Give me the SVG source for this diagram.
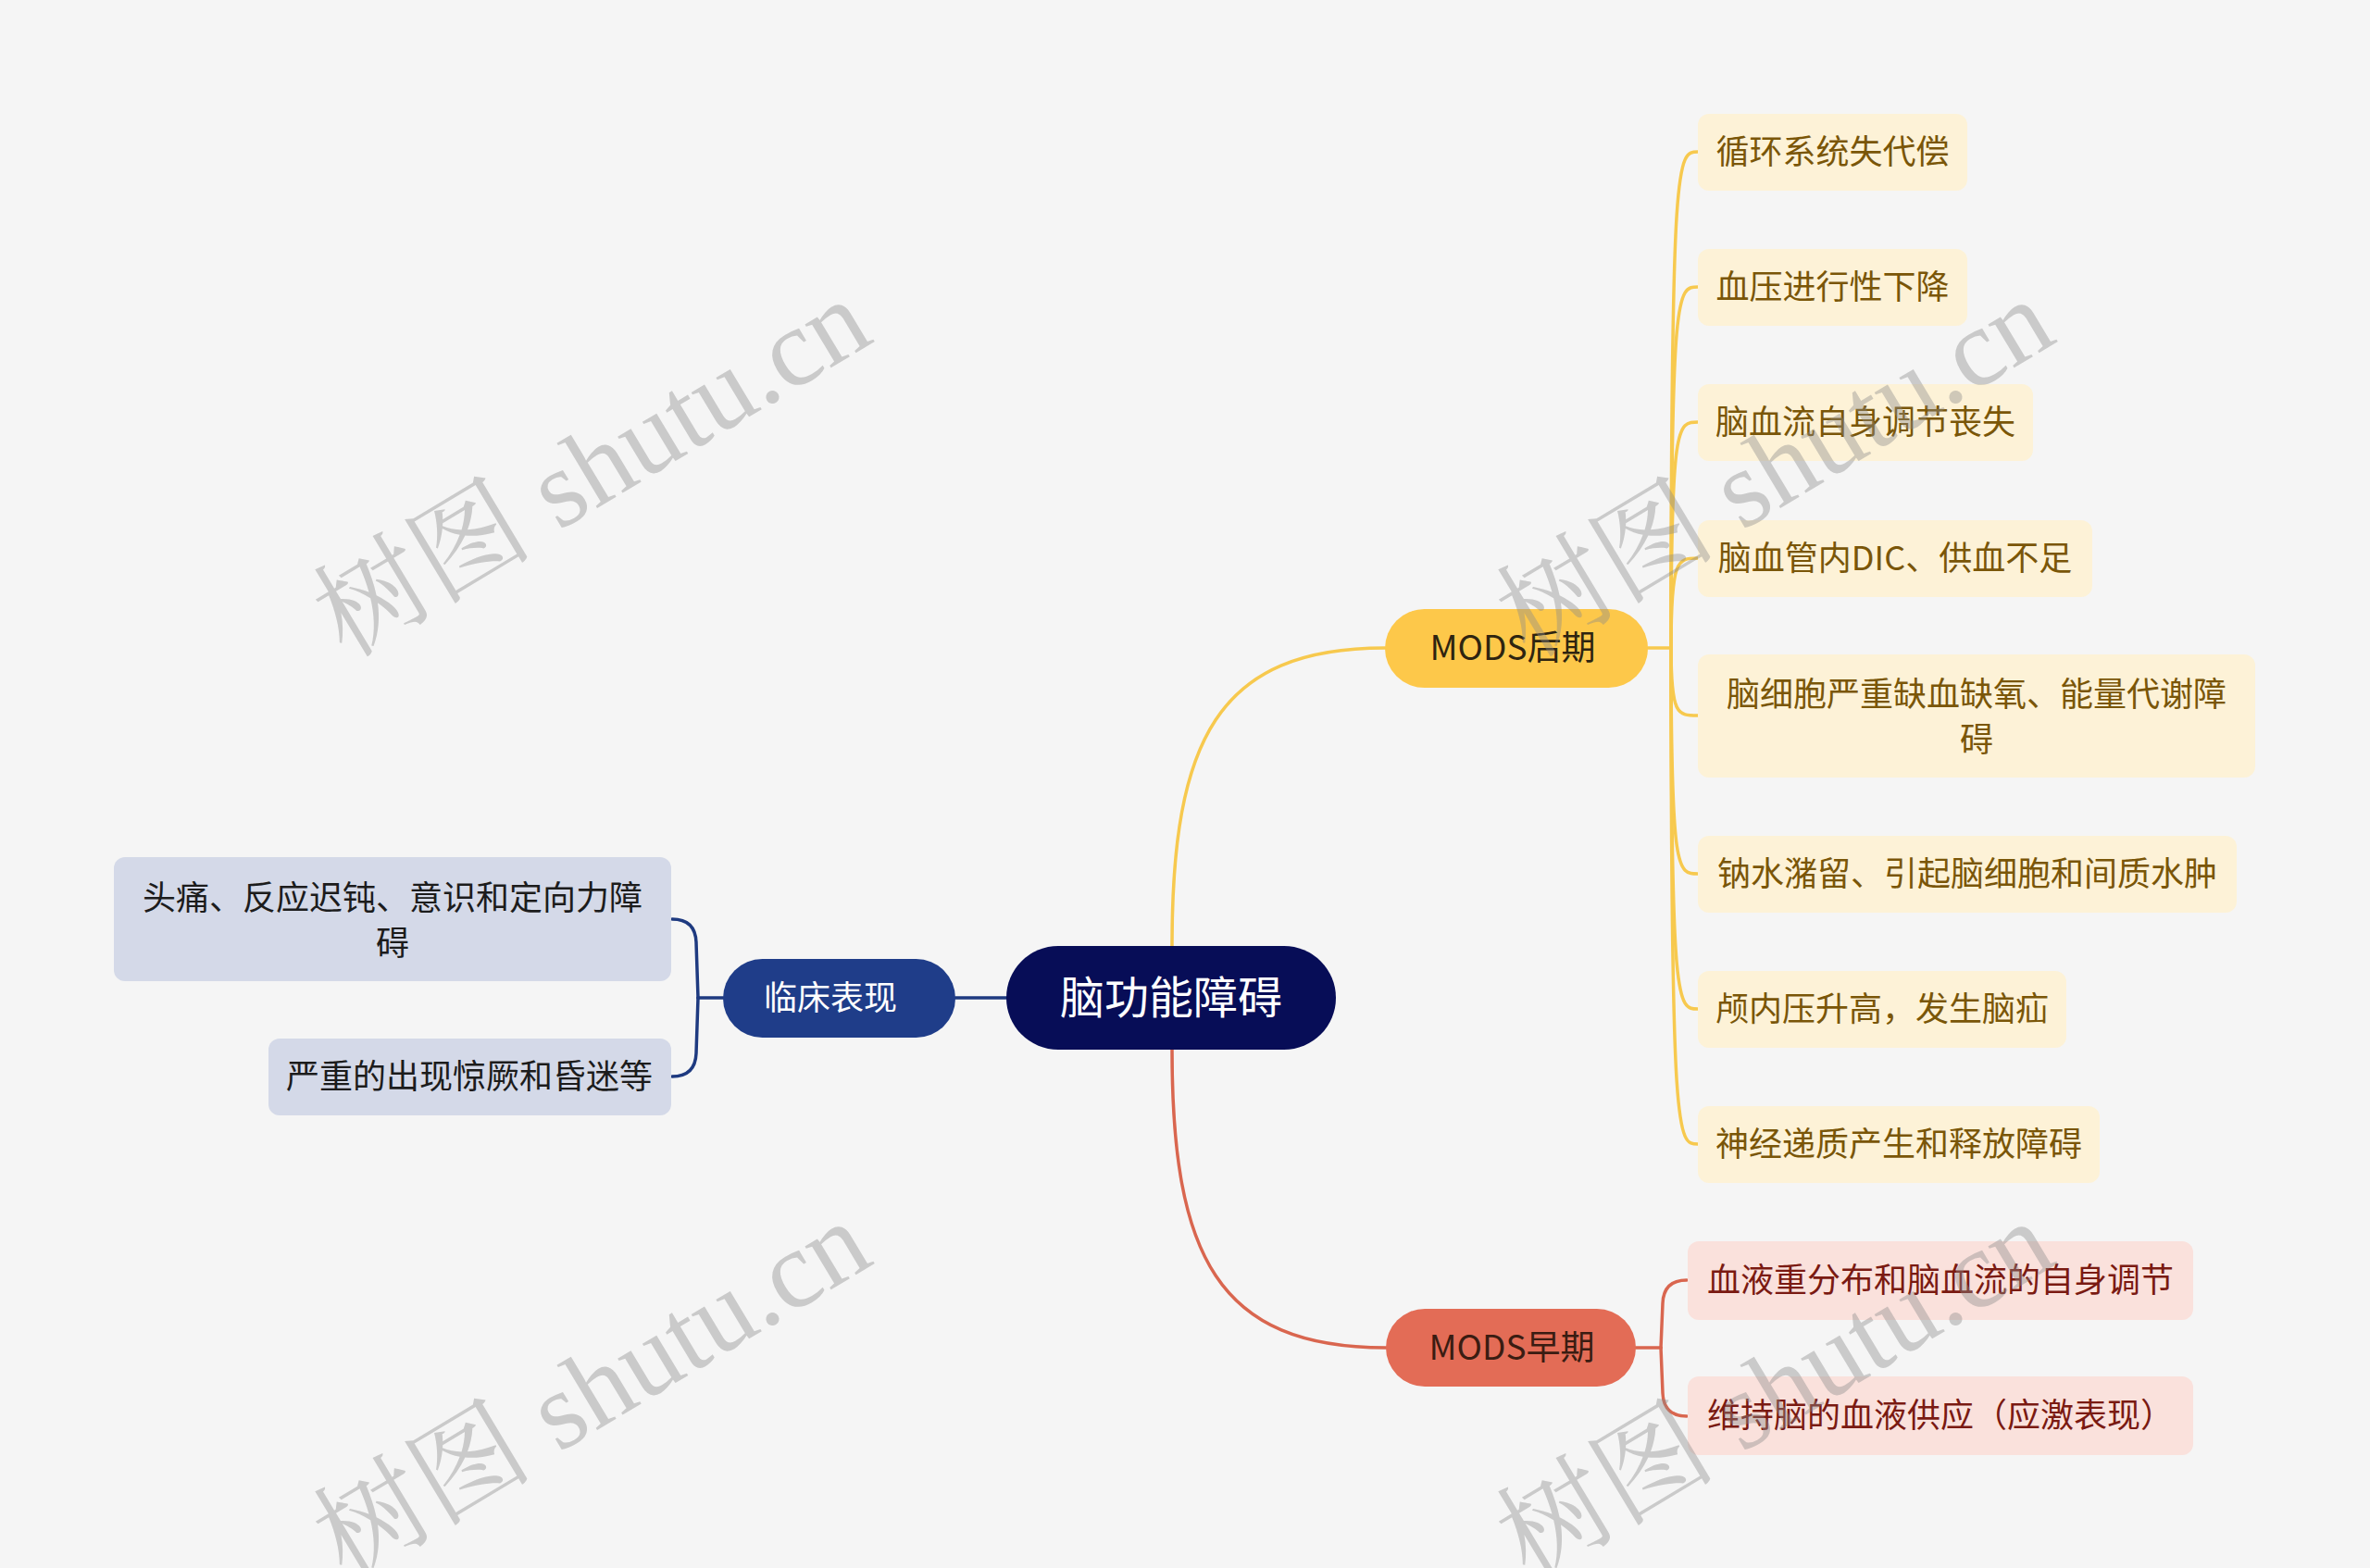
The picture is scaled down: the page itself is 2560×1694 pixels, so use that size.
<svg xmlns="http://www.w3.org/2000/svg" width="2560" height="1694" viewBox="0 0 2560 1694">
<style>
text{font-family:"Noto Sans CJK SC","Noto Sans",sans-serif;font-size:36px;text-anchor:middle}
.c{fill:none;stroke-linecap:round}
.y{stroke:#f7c94e;stroke-width:3.5}
.r{stroke:#d9664f;stroke-width:3.5}
.b{stroke:#1e3a80;stroke-width:3.5}
.yb{fill:#fdf2d7}
.yt{fill:#7a5608}
.rb{fill:#fae1dc}
.rt{fill:#7a1a12}
.bb{fill:#d4d9e8}
.bt{fill:#1c1c1c}
.wm{font-family:"Liberation Serif","Noto Serif CJK SC","Noto Sans CJK SC",serif;font-size:119px;fill:#8a8a8a;fill-opacity:0.4;text-anchor:middle}
</style>
<rect width="2560" height="1694" fill="#f5f5f5"/>
<g id="connectors">
<path class="c y" d="M1266,1022 C1266,800 1315,700 1496,700"/>
<path class="c r" d="M1266,1134 C1266,1356 1315,1456 1497,1456"/>
<path class="c b" d="M1087,1078 L1032,1078"/>
<path class="c y" d="M1780,700 L1805,700"/>
<path class="c y" d="M1805,700 C1805,164 1812,164 1834,164"/>
<path class="c y" d="M1805,700 C1805,310 1812,310 1834,310"/>
<path class="c y" d="M1805,700 C1805,456 1812,456 1834,456"/>
<path class="c y" d="M1805,700 C1805,603 1812,603 1834,603"/>
<path class="c y" d="M1805,700 C1805,773 1812,773 1834,773"/>
<path class="c y" d="M1805,700 C1805,944 1812,944 1834,944"/>
<path class="c y" d="M1805,700 C1805,1090 1812,1090 1834,1090"/>
<path class="c y" d="M1805,700 C1805,1236 1812,1236 1834,1236"/>
<path class="c r" d="M1767,1456 L1794,1456"/>
<path class="c r" d="M1794,1456 L1796,1408 Q1797,1383 1822,1383"/>
<path class="c r" d="M1794,1456 L1796,1505 Q1797,1530 1822,1530"/>
<path class="c b" d="M781,1078 L754,1078"/>
<path class="c b" d="M754,1078 L752,1018 Q751,993 726,993"/>
<path class="c b" d="M754,1078 L752,1138 Q751,1163 726,1163"/>
</g>
<g id="root">
<rect x="1087" y="1022" width="356" height="112" rx="56" fill="#070d57"/>
<text x="1265" y="1095" style="font-size:48px;fill:#ffffff">脑功能障碍</text>
</g>
<g id="mods-late">
<rect x="1496" y="658" width="284" height="85" rx="42.5" fill="#fdc84a"/>
<text x="1634" y="713" style="fill:#2e2410;font-size:37px">MODS后期</text>
</g>
<g id="mods-early">
<rect x="1497" y="1414" width="270" height="84" rx="42" fill="#e36c56"/>
<text x="1633" y="1469" style="fill:#3a1c12;font-size:37px">MODS早期</text>
</g>
<g id="clinical">
<rect x="781" y="1036" width="251" height="85" rx="42.5" fill="#1f3d89"/>
<text x="897" y="1091" style="fill:#ffffff">临床表现</text>
</g>
<g id="late-1"><rect class="yb" x="1834" y="123" width="291" height="83" rx="12"/><text class="yt" x="1979.5" y="177">循环系统失代偿</text></g>
<g id="late-2"><rect class="yb" x="1834" y="269" width="291" height="83" rx="12"/><text class="yt" x="1979.5" y="323">血压进行性下降</text></g>
<g id="late-3"><rect class="yb" x="1834" y="415" width="362" height="83" rx="12"/><text class="yt" x="2015" y="469">脑血流自身调节丧失</text></g>
<g id="late-4"><rect class="yb" x="1834" y="562" width="426" height="83" rx="12"/><text class="yt" x="2047" y="616">脑血管内DIC、供血不足</text></g>
<g id="late-5"><rect class="yb" x="1834" y="707" width="602" height="133" rx="12"/><text class="yt" x="2135" y="763">脑细胞严重缺血缺氧、能量代谢障</text><text class="yt" x="2135" y="812">碍</text></g>
<g id="late-6"><rect class="yb" x="1834" y="903" width="582" height="83" rx="12"/><text class="yt" x="2125" y="957">钠水潴留、引起脑细胞和间质水肿</text></g>
<g id="late-7"><rect class="yb" x="1834" y="1049" width="398" height="83" rx="12"/><text class="yt" x="2033" y="1103">颅内压升高，发生脑疝</text></g>
<g id="late-8"><rect class="yb" x="1834" y="1195" width="434" height="83" rx="12"/><text class="yt" x="2051" y="1249">神经递质产生和释放障碍</text></g>
<g id="early-1"><rect class="rb" x="1823" y="1341" width="546" height="85" rx="12"/><text class="rt" x="2096" y="1396">血液重分布和脑血流的自身调节</text></g>
<g id="early-2"><rect class="rb" x="1823" y="1487" width="546" height="85" rx="12"/><text class="rt" x="2096" y="1542">维持脑的血液供应（应激表现）</text></g>
<g id="clin-1"><rect class="bb" x="123" y="926" width="602" height="134" rx="12"/><text class="bt" x="424" y="983">头痛、反应迟钝、意识和定向力障</text><text class="bt" x="424" y="1032">碍</text></g>
<g id="clin-2"><rect class="bb" x="290" y="1122" width="435" height="83" rx="12"/><text class="bt" x="507" y="1176">严重的出现惊厥和昏迷等</text></g>
<g id="watermarks">
<text class="wm" transform="translate(660,540) rotate(-31)">树图 shutu.cn</text>
<text class="wm" transform="translate(660,1536) rotate(-31)">树图 shutu.cn</text>
<text class="wm" transform="translate(1938,540) rotate(-31)">树图 shutu.cn</text>
<text class="wm" transform="translate(1938,1536) rotate(-31)">树图 shutu.cn</text>
</g>
</svg>
